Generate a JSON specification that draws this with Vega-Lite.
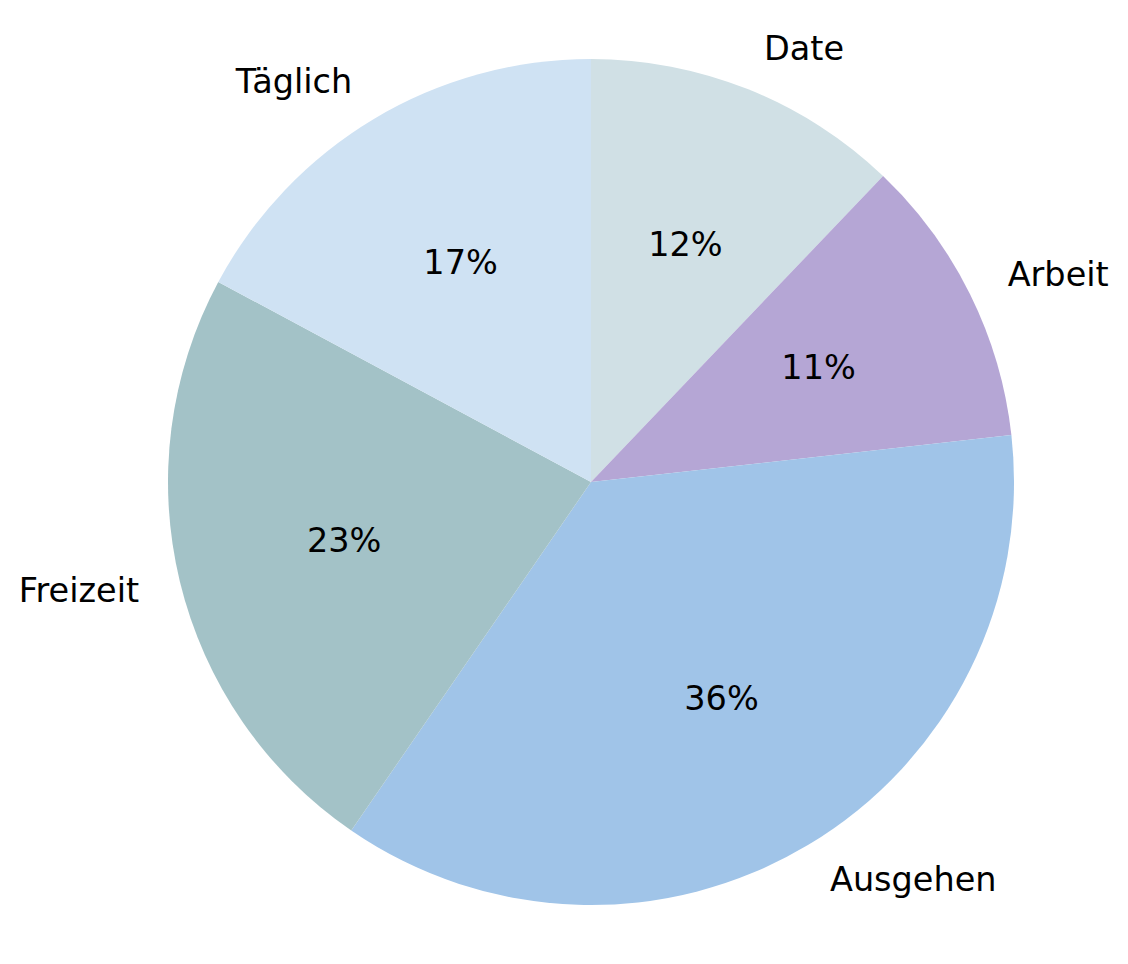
{
  "$schema": "https://vega.github.io/schema/vega-lite/v6.json",
  "width": 1074,
  "height": 964,
  "autosize": "none",
  "padding": {"left": 54, "top": 0, "right": 0, "bottom": 0},
  "background": "white",
  "view": {"stroke": null},
  "config": {"font": "DejaVu Sans"},
  "data": {
    "values": [
      {"label": "Date", "value": 0.1213, "order": 1},
      {"label": "Arbeit", "value": 0.1110, "order": 2},
      {"label": "Ausgehen", "value": 0.3636, "order": 3},
      {"label": "Freizeit", "value": 0.2325, "order": 4},
      {"label": "Täglich", "value": 0.1716, "order": 5}
    ]
  },
  "encoding": {
    "theta": {"field": "value", "type": "quantitative", "stack": true},
    "order": {"field": "order", "type": "quantitative"}
  },
  "layer": [
    {
      "mark": {"type": "arc", "radius": 423},
      "encoding": {
        "color": {
          "field": "label",
          "type": "nominal",
          "scale": {
            "domain": ["Date", "Arbeit", "Ausgehen", "Freizeit", "Täglich"],
            "range": ["#d0e0e5", "#b5a6d5", "#a0c4e8", "#a3c2c7", "#cfe2f3"]
          },
          "legend": null
        }
      }
    },
    {
      "mark": {"type": "text", "radius": 254, "fontSize": 33.5, "color": "black", "align": "center", "baseline": "middle"},
      "encoding": {
        "text": {"field": "value", "type": "quantitative", "format": ".0%"}
      }
    },
    {
      "mark": {"type": "text", "radius": 465, "fontSize": 33.5, "color": "black", "align": "left", "baseline": "middle"},
      "encoding": {
        "text": {
          "condition": {"test": "indexof(['Date','Arbeit','Ausgehen'], datum.label) >= 0", "field": "label"},
          "value": ""
        }
      }
    },
    {
      "mark": {"type": "text", "radius": 465, "fontSize": 33.5, "color": "black", "align": "right", "baseline": "middle"},
      "encoding": {
        "text": {
          "condition": {"test": "indexof(['Freizeit','Täglich'], datum.label) >= 0", "field": "label"},
          "value": ""
        }
      }
    }
  ]
}
